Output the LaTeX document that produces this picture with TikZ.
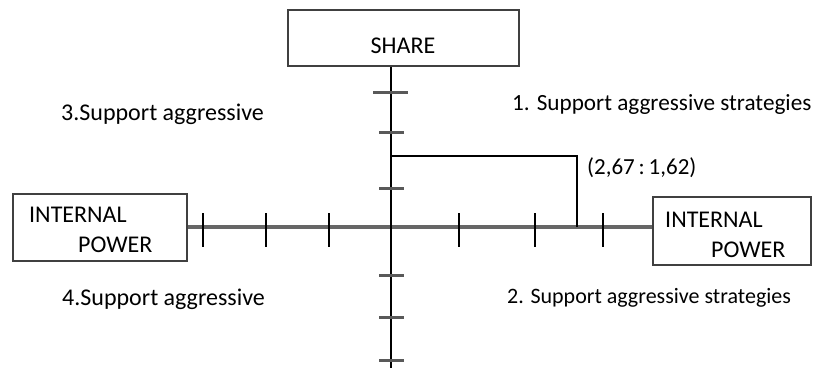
\documentclass[tikz,border=0pt]{standalone}
\usepackage{fontspec}
\setmainfont{Carlito}
\begin{document}
\begin{tikzpicture}[x=1pt,y=-1pt,
  box/.style={draw=black!75,line width=1.5pt,fill=white,inner sep=0pt},
  lbl/.style={inner sep=0pt,anchor=west,font=\fontsize{24}{28}\selectfont},
  axisH/.style={draw=black!60,line width=3.4pt},
  axisV/.style={draw=black,line width=2.8pt},
  tickH/.style={draw=black,line width=2.7pt},
  tickV/.style={draw=black!65,line width=3pt},
  brk/.style={draw=black,line width=2.2pt}]
\useasboundingbox (0,0) rectangle (820,368);
% boxes
\node[box,minimum width=231pt,minimum height=56pt] (share) at (403.5,38) {};
\node[box,minimum width=174pt,minimum height=67pt] (lbox) at (100,227.5) {};
\node[box,minimum width=158pt,minimum height=68pt] (rbox) at (732,231) {};
\node[lbl,anchor=center] (sharet) at (403,46) {SHARE};
\node[lbl] (l1) at (29,215) {INTERNAL};
\node[lbl] (l2) at (78,245) {POWER};
\node[lbl] (r1) at (665,220) {INTERNAL};
\node[lbl] (r2) at (711,250) {POWER};
% axes
\coordinate (vbot) at (391,368);
\path[axisH] (lbox.east |- 0,227) -- (rbox.west |- 0,227);
\path[axisV] (share.south -| 391,0) -- (vbot);
% ticks horizontal axis
\foreach \x in {203,266,329,459,535,603} \path[tickH] (\x,213) -- (\x,247);
% ticks vertical axis
\path[tickV] (373,92) -- (408,92);
\foreach \y in {132,188,275,317,360} \path[tickV] (379,\y) -- (404,\y);
% bracket
\coordinate (bk) at (391,156);
\coordinate (bp) at (577,227);
\path[brk] (bk) -- (bk -| bp) -- (bp);
\node[lbl,font=\fontsize{23}{27}\selectfont] (pt) at (587,168) {(2,67\,:\,1,62)};
% quadrant labels
\node[lbl] (q3) at (61,114) {3.Support aggressive};
\node[lbl,font=\fontsize{23.2}{27}\selectfont] (q1) at (512,105) {1. Support aggressive strategies};
\node[lbl] (q4) at (62,299) {4.Support aggressive};
\node[lbl,font=\fontsize{22}{26}\selectfont] (q2) at (507,298) {2. Support aggressive strategies};
\end{tikzpicture}
\end{document}
